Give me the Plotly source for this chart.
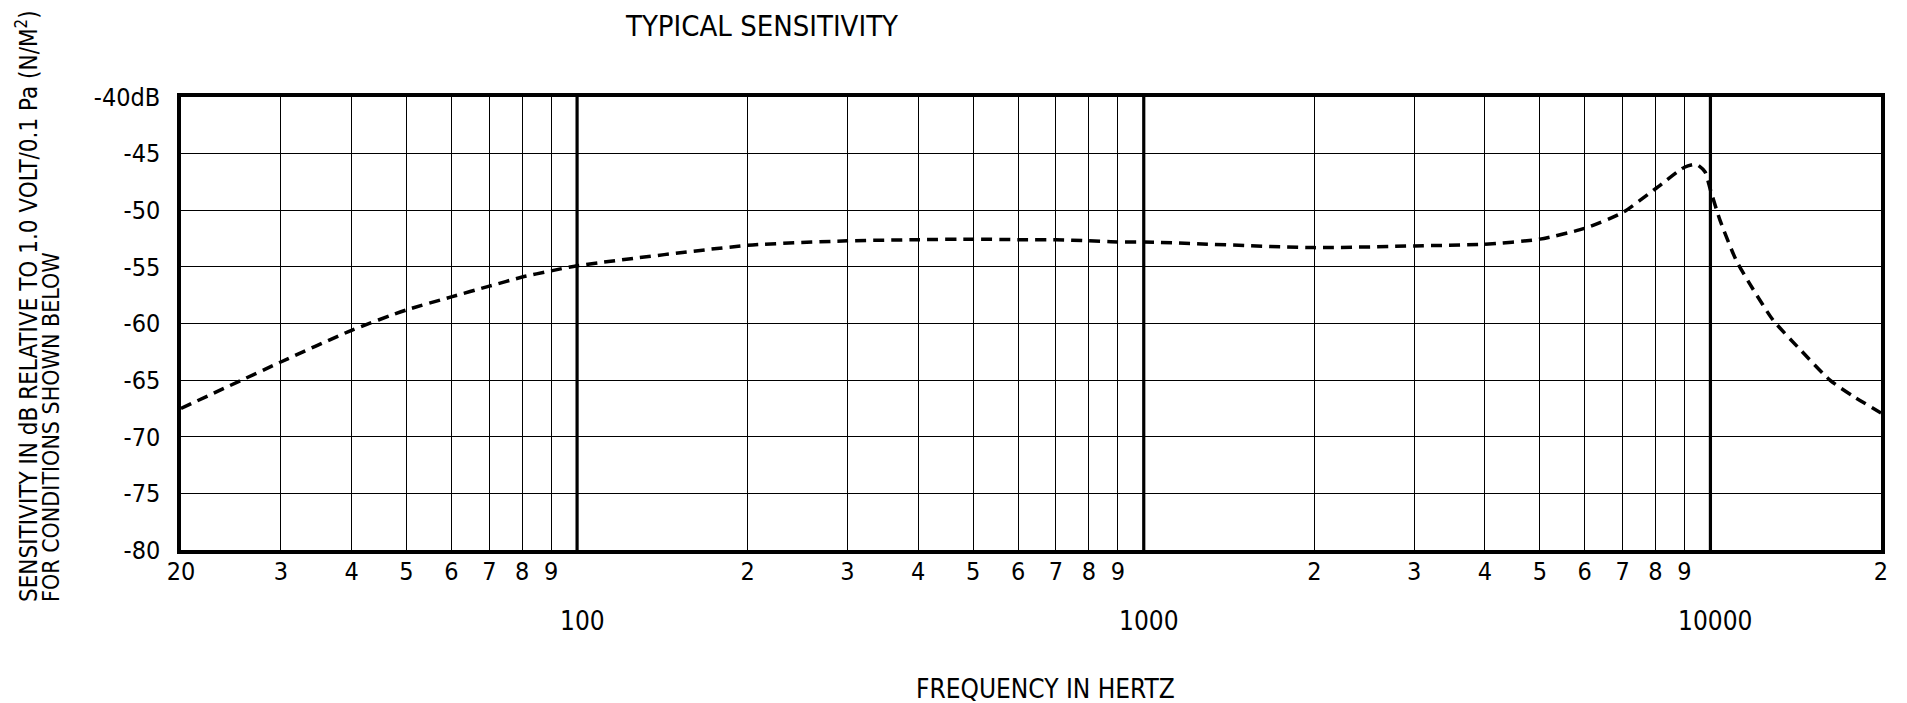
import math
import plotly.graph_objects as go

# ---------------- data ----------------
freq_hz = [20, 30, 40, 50, 60, 70, 80, 90, 100, 200, 300, 400, 500, 600, 700, 800, 900,
           1000, 2000, 3000, 4000, 5000, 6000, 7000, 8000, 9000, 9450, 9780, 10000,
           10400, 11100, 11900, 12900, 14400, 16250, 17900, 20000]
sensitivity_db = [-67.5, -63.4, -60.6, -58.8, -57.65, -56.7, -55.9, -55.35, -54.9,
                  -53.1, -52.7, -52.6, -52.55, -52.6, -52.6, -52.7, -52.8,
                  -52.8, -53.3, -53.15, -53.0, -52.55, -51.6, -50.2, -48.1, -46.2, -45.95, -46.6, -48.2,
                  -50.9, -54.4, -57.0, -59.7, -62.3, -65.0, -66.45, -67.9]

x_tick_vals = [20, 30, 40, 50, 60, 70, 80, 90,
               200, 300, 400, 500, 600, 700, 800, 900,
               2000, 3000, 4000, 5000, 6000, 7000, 8000, 9000, 20000]
x_tick_text = ["20", "3", "4", "5", "6", "7", "8", "9",
               "2", "3", "4", "5", "6", "7", "8", "9",
               "2", "3", "4", "5", "6", "7", "8", "9", "2"]
decades = [100, 1000, 10000]
decade_labels = ["100", "1000", "10000"]

y_tick_vals = [-80, -75, -70, -65, -60, -55, -50, -45, -40]
y_tick_text = ["-80", "-75", "-70", "-65", "-60", "-55", "-50", "-45", "-40dB"]

x_min, x_max = 20, 20000
y_min, y_max = -80, -40

title_text = "TYPICAL SENSITIVITY"
x_title = "FREQUENCY IN HERTZ"
y_title_1 = "SENSITIVITY IN dB RELATIVE TO 1.0 VOLT/0.1 Pa (N/M<sup>2</sup>)"
y_title_2 = "FOR CONDITIONS SHOWN BELOW"

# ---------------- figure ----------------
FONT = "Liberation Sans Narrow, DejaVu Sans Condensed, Liberation Sans, sans-serif"
W, H = 1907, 703
ML, MR, MT, MB = 181, 26, 97, 153

fig = go.Figure()
fig.add_trace(go.Scatter(
    x=freq_hz, y=sensitivity_db, mode="lines",
    line=dict(color="black", width=3.5, dash="11px,7px", shape="spline", smoothing=0.6),
    hoverinfo="x+y", showlegend=False,
))

for d in decades:
    fig.add_shape(type="line", xref="x", yref="paper", x0=d, x1=d, y0=0, y1=1,
                  line=dict(color="black", width=3.2), layer="below")

for d, lab in zip(decades, decade_labels):
    fig.add_annotation(x=math.log10(d), xref="x", y=0, yref="paper",
                       text=lab, showarrow=False, xanchor="center", yanchor="middle",
                       xshift=5, yshift=-71,
                       font=dict(family=FONT, size=26, color="black"))

fig.add_annotation(x=(762 - ML) / (W - ML - MR), xref="paper", y=1, yref="paper",
                   text=title_text, showarrow=False, xanchor="center", yanchor="middle",
                   yshift=71, font=dict(family=FONT, size=29, color="black"))
fig.add_annotation(x=(1045 - ML) / (W - ML - MR), xref="paper", y=0, yref="paper",
                   text=x_title, showarrow=False, xanchor="center", yanchor="middle",
                   yshift=-(689 - (H - MB)), font=dict(family=FONT, size=26, color="black"))
fig.add_annotation(x=0, xref="paper", y=0, yref="paper", text=y_title_1,
                   showarrow=False, textangle=-90, xanchor="center", yanchor="bottom",
                   xshift=27 - ML, yshift=-(604 - (H - MB)),
                   font=dict(family=FONT, size=24, color="black"))
fig.add_annotation(x=0, xref="paper", y=0, yref="paper", text=y_title_2,
                   showarrow=False, textangle=-90, xanchor="center", yanchor="bottom",
                   xshift=51 - ML, yshift=-(604 - (H - MB)),
                   font=dict(family=FONT, size=23, color="black"))

fig.update_layout(
    width=W, height=H,
    margin=dict(l=ML, r=MR, t=MT, b=MB, pad=0),
    paper_bgcolor="white", plot_bgcolor="white",
    font=dict(family=FONT, size=25, color="black"),
    xaxis=dict(type="log", range=[math.log10(x_min), math.log10(x_max)],
               tickmode="array", tickvals=x_tick_vals, ticktext=x_tick_text,
               showgrid=True, gridcolor="black", gridwidth=1,
               showline=True, linecolor="black", linewidth=3.5, mirror=True,
               ticks="", ticklabelstandoff=-4, zeroline=False,
               tickfont=dict(family=FONT, size=25, color="black")),
    yaxis=dict(range=[y_min, y_max], tickmode="array",
               tickvals=y_tick_vals, ticktext=y_tick_text,
               showgrid=True, gridcolor="black", gridwidth=1,
               showline=True, linecolor="black", linewidth=3.5, mirror=True,
               ticks="", ticklabelstandoff=12, zeroline=False,
               tickfont=dict(family=FONT, size=25, color="black")),
)

fig.write_html("out.html", config={"displayModeBar": False},
               post_script="document.body.style.margin='0';")
